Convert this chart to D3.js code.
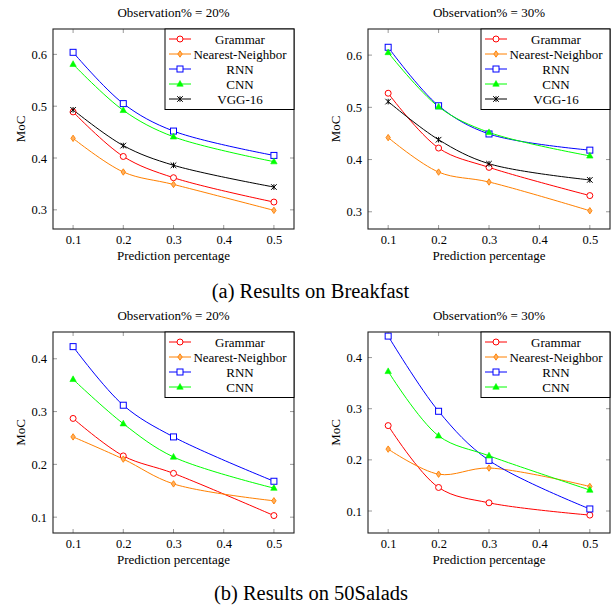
<!DOCTYPE html>
<html>
<head>
<meta charset="utf-8">
<script src="https://cdn.jsdelivr.net/npm/d3@7"></script>
<style>
  html, body { margin: 0; padding: 0; background: #fff; }
  svg { display: block; }
  text { font-family: "Liberation Serif", "Times New Roman", serif; fill: #000; }
</style>
</head>
<body>
<svg id="chart" width="612" height="605"></svg>
<script>
// ---------------- data ----------------
const xValues = [0.1, 0.2, 0.3, 0.5];
const xTicks = [0.1, 0.2, 0.3, 0.4, 0.5];
const seriesNames = ["Grammar", "Nearest-Neighbor", "RNN", "CNN", "VGG-16"];

// Breakfast, observation 20%
const bf20Grammar = [0.489, 0.403, 0.362, 0.315];
const bf20NN      = [0.438, 0.373, 0.349, 0.299];
const bf20RNN     = [0.604, 0.505, 0.452, 0.405];
const bf20CNN     = [0.581, 0.492, 0.441, 0.393];
const bf20VGG     = [0.493, 0.424, 0.386, 0.344];

// Breakfast, observation 30%
const bf30Grammar = [0.527, 0.422, 0.385, 0.331];
const bf30NN      = [0.442, 0.376, 0.357, 0.302];
const bf30RNN     = [0.615, 0.503, 0.449, 0.418];
const bf30CNN     = [0.605, 0.501, 0.452, 0.407];
const bf30VGG     = [0.511, 0.438, 0.392, 0.361];

// 50Salads, observation 20%
const sa20Grammar = [0.287, 0.216, 0.183, 0.103];
const sa20NN      = [0.252, 0.210, 0.163, 0.131];
const sa20RNN     = [0.423, 0.312, 0.252, 0.168];
const sa20CNN     = [0.361, 0.277, 0.214, 0.155];

// 50Salads, observation 30%
const sa30Grammar = [0.267, 0.146, 0.116, 0.092];
const sa30NN      = [0.221, 0.172, 0.184, 0.148];
const sa30RNN     = [0.442, 0.295, 0.199, 0.104];
const sa30CNN     = [0.373, 0.247, 0.208, 0.141];

const yTicksBreakfast = [0.3, 0.4, 0.5, 0.6];
const yTicksSalads = [0.1, 0.2, 0.3, 0.4];
const panelTitles = ["Observation% = 20%", "Observation% = 30%", "Observation% = 20%", "Observation% = 30%"];
const captions = ["(a) Results on Breakfast", "(b) Results on 50Salads"];

// ---------------- styles ----------------
const styles = {
  "Grammar":          { color: "#ff0000", mark: "circle" },
  "Nearest-Neighbor": { color: "#ff8000", mark: "diamond" },
  "RNN":              { color: "#0000ff", mark: "square" },
  "CNN":              { color: "#00ff00", mark: "triangle" },
  "VGG-16":           { color: "#000000", mark: "star" }
};

const panels = [
  { box: [53, 294, 29, 229],  yDomain: [0.263, 0.649], yTicks: yTicksBreakfast, title: panelTitles[0],
    series: [bf20Grammar, bf20NN, bf20RNN, bf20CNN, bf20VGG] },
  { box: [368, 610, 29, 229], yDomain: [0.267, 0.650], yTicks: yTicksBreakfast, title: panelTitles[1],
    series: [bf30Grammar, bf30NN, bf30RNN, bf30CNN, bf30VGG] },
  { box: [53, 294, 332, 533], yDomain: [0.070, 0.4507], yTicks: yTicksSalads, title: panelTitles[2],
    series: [sa20Grammar, sa20NN, sa20RNN, sa20CNN] },
  { box: [368, 610, 332, 533], yDomain: [0.057, 0.450], yTicks: yTicksSalads, title: panelTitles[3],
    series: [sa30Grammar, sa30NN, sa30RNN, sa30CNN] }
];

const svg = d3.select("#chart");
const FONT = '"Liberation Serif", "Times New Roman", serif';

function drawMark(g, type, x, y, color) {
  if (type === "circle") {
    g.append("circle").attr("cx", x).attr("cy", y).attr("r", 3)
      .attr("fill", "#fff").attr("stroke", color).attr("stroke-width", 1);
  } else if (type === "square") {
    g.append("rect").attr("x", x - 3).attr("y", y - 3).attr("width", 6).attr("height", 6)
      .attr("fill", "#fff").attr("stroke", color).attr("stroke-width", 1);
  } else if (type === "triangle") {
    g.append("path").attr("d", `M${x},${y - 3.5}L${x + 3.2},${y + 2.2}L${x - 3.2},${y + 2.2}Z`)
      .attr("fill", color).attr("stroke", color).attr("stroke-width", 0.6);
  } else if (type === "diamond") {
    g.append("path").attr("d", `M${x},${y - 3.2}L${x + 2.2},${y}L${x},${y + 3.2}L${x - 2.2},${y}Z`)
      .attr("fill", "#ffb060").attr("stroke", color).attr("stroke-width", 0.9);
  } else if (type === "star") {
    const r = 2.8;
    const d = `M${x - r},${y - r}L${x + r},${y + r}M${x - r},${y + r}L${x + r},${y - r}M${x},${y - r}L${x},${y + r}`;
    g.append("path").attr("d", d).attr("stroke", color).attr("stroke-width", 1).attr("fill", "none");
  }
}

panels.forEach((p) => {
  const [L, R, T, B] = p.box;
  const x = d3.scaleLinear().domain([0.06, 0.54]).range([L, R]);
  const y = d3.scaleLinear().domain(p.yDomain).range([B, T]);
  const g = svg.append("g");

  // ticks (inside, all four sides)
  const tickLen = 4;
  const tickColor = "#808080";
  xTicks.forEach(t => {
    g.append("line").attr("x1", x(t)).attr("x2", x(t)).attr("y1", B).attr("y2", B - tickLen)
      .attr("stroke", tickColor).attr("stroke-width", 0.8);
    g.append("line").attr("x1", x(t)).attr("x2", x(t)).attr("y1", T).attr("y2", T + tickLen)
      .attr("stroke", tickColor).attr("stroke-width", 0.8);
  });
  p.yTicks.forEach(t => {
    g.append("line").attr("x1", L).attr("x2", L + tickLen).attr("y1", y(t)).attr("y2", y(t))
      .attr("stroke", tickColor).attr("stroke-width", 0.8);
    g.append("line").attr("x1", R).attr("x2", R - tickLen).attr("y1", y(t)).attr("y2", y(t))
      .attr("stroke", tickColor).attr("stroke-width", 0.8);
  });

  // axis tick labels via d3 axes
  const xAxis = d3.axisBottom(x).tickValues(xTicks).tickFormat(d3.format(".1f")).tickSize(0).tickPadding(6);
  const gx = g.append("g").attr("transform", `translate(0,${B})`).call(xAxis);
  gx.attr("font-family", FONT);
  gx.select(".domain").remove();
  gx.selectAll("text").attr("font-family", FONT).attr("font-size", 12.5).attr("fill", "#000");

  const yAxis = d3.axisLeft(y).tickValues(p.yTicks).tickFormat(d3.format(".1f")).tickSize(0).tickPadding(6);
  const gy = g.append("g").attr("transform", `translate(${L},0)`).call(yAxis);
  gy.attr("font-family", FONT);
  gy.select(".domain").remove();
  gy.selectAll("text").attr("font-family", FONT).attr("font-size", 12.5).attr("fill", "#000");

  // series
  const line = d3.line().x((d, i) => x(xValues[i])).y(d => y(d)).curve(d3.curveCatmullRom.alpha(0.5));
  p.series.forEach((vals, si) => {
    const st = styles[seriesNames[si]];
    g.append("path").attr("d", line(vals)).attr("fill", "none")
      .attr("stroke", st.color).attr("stroke-width", 1);
  });
  p.series.forEach((vals, si) => {
    const st = styles[seriesNames[si]];
    vals.forEach((v, i) => drawMark(g, st.mark, x(xValues[i]), y(v), st.color));
  });

  // frame
  g.append("rect").attr("x", L).attr("y", T).attr("width", R - L).attr("height", B - T)
    .attr("fill", "none").attr("stroke", "#222").attr("stroke-width", 1.1);

  // legend
  const n = p.series.length;
  const lw = 129, lh = 10 + 15 * (n - 1) + 10.5;
  const lx = R - lw, ly = T;
  const lg = g.append("g");
  lg.append("rect").attr("x", lx).attr("y", ly).attr("width", lw).attr("height", lh)
    .attr("fill", "#fff").attr("stroke", "#000").attr("stroke-width", 1);
  for (let si = 0; si < n; si++) {
    const st = styles[seriesNames[si]];
    const ry = ly + 10 + 15 * si;
    lg.append("line").attr("x1", lx + 4).attr("x2", lx + 26).attr("y1", ry).attr("y2", ry)
      .attr("stroke", st.color).attr("stroke-width", 1);
    drawMark(lg, st.mark, lx + 15, ry, st.color);
    lg.append("text").attr("x", lx + 75).attr("y", ry).attr("dy", "0.35em")
      .attr("font-family", FONT).attr("text-anchor", "middle").attr("font-size", 13).text(seriesNames[si]);
  }

  // title
  g.append("text").attr("x", (L + R) / 2).attr("y", T - 17).attr("dy", "0.35em")
    .attr("font-family", FONT).attr("text-anchor", "middle").attr("font-size", 13).text(p.title);

  // x label
  g.append("text").attr("x", (L + R) / 2).attr("y", B + 26).attr("dy", "0.35em")
    .attr("font-family", FONT).attr("text-anchor", "middle").attr("font-size", 13).text("Prediction percentage");

  // y label
  g.append("text").attr("transform", `translate(${L - 33},${(T + B) / 2}) rotate(-90)`)
    .attr("font-family", FONT).attr("dy", "0.35em").attr("text-anchor", "middle").attr("font-size", 13).text("MoC");
});

// captions
svg.append("text").attr("x", 310.5).attr("y", 291).attr("dy", "0.35em")
  .attr("font-family", FONT).attr("text-anchor", "middle").attr("font-size", 20.5).text(captions[0]);
svg.append("text").attr("x", 311).attr("y", 593).attr("dy", "0.35em")
  .attr("font-family", FONT).attr("text-anchor", "middle").attr("font-size", 20.5).text(captions[1]);
</script>
</body>
</html>
